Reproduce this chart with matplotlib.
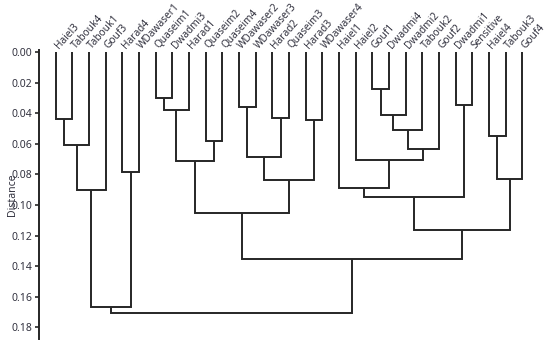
import matplotlib
matplotlib.use("Agg")
import matplotlib.pyplot as plt
import numpy as np

plt.rcParams['font.family'] = ['Noto Sans', 'DejaVu Sans']

# Leaf labels in dendrogram order
leaf_labels = ["Haiel3", "Tabouk4", "Tabouk1", "Gouf3", "Harad4", "WDawaser1",
               "Quaseim1", "Dwadmi3", "Harad1", "Quaseim2", "Quaseim4",
               "WDawaser2", "WDawaser3", "Harad2", "Quaseim3", "Harad3",
               "WDawaser4", "Haiel1", "Haiel2", "Gouf1", "Dwadmi4", "Dwadmi2",
               "Tabouk2", "Gouf2", "Dwadmi1", "Sensitive", "Haiel4", "Tabouk3",
               "Gouf4"]

# Linkage-style merges: node ids 0..28 are leaves, new clusters get ids 29, 30, ...
merge_a = [19, 6, 24, 11, 30, 29, 13, 0, 15, 34, 26, 9, 36, 38, 32, 18, 33,
           4, 39, 43, 17, 41, 49, 45, 51, 52, 50, 55]
merge_b = [20, 7, 25, 12, 8, 21, 14, 1, 16, 22, 27, 10, 2, 23, 35, 42, 40,
           5, 28, 37, 44, 3, 31, 48, 47, 53, 46, 54]
merge_height = [0.0242, 0.0297, 0.0342, 0.0356, 0.0378, 0.0412, 0.0432, 0.0434,
                0.0443, 0.0509, 0.0550, 0.0578, 0.0607, 0.0632, 0.0683, 0.0705,
                0.0714, 0.0786, 0.0831, 0.0838, 0.0890, 0.0899, 0.0949, 0.1050,
                0.1163, 0.1351, 0.1669, 0.1708]

y_ticks = [0.00, 0.02, 0.04, 0.06, 0.08, 0.10, 0.12, 0.14, 0.16, 0.18]

line_color = "#262626"
text_color = "#333340"

W, H = 550, 346
fig = plt.figure(figsize=(W / 100, H / 100), dpi=100)
ax_left, ax_right, ax_top, ax_bottom = 39.3, 545.0, 50.0, 339.0
ax = fig.add_axes([ax_left / W, 1 - ax_bottom / H,
                   (ax_right - ax_left) / W, (ax_bottom - ax_top) / H])

n = len(leaf_labels)
pos = {i: float(i) for i in range(n)}
hgt = {i: 0.0 for i in range(n)}
for k, (a, b, h) in enumerate(zip(merge_a, merge_b, merge_height)):
    node = n + k
    xa, xb = pos[a], pos[b]
    ax.plot([xa, xa, xb, xb], [hgt[a], h, h, hgt[b]], color=line_color,
            lw=1.4, solid_joinstyle='miter', solid_capstyle='butt')
    pos[node] = (xa + xb) / 2
    hgt[node] = h

spacing_px = 16.66
ax.set_xlim(-(55.7 - ax_left) / spacing_px, (ax_right - 55.7) / spacing_px)
ax.set_ylim(0.1877, -0.0015)

for i, lab in enumerate(leaf_labels):
    ax.text(i + 0.08, -0.0035, lab, rotation=48, rotation_mode='anchor',
            ha='left', va='center', fontsize=7.3, color=text_color, clip_on=False)

ax.set_xticks([])
ax.set_yticks(y_ticks)
ax.set_yticklabels([f"{v:.2f}" for v in y_ticks])
ax.tick_params(axis='y', direction='out', length=3, width=1.2, color=line_color,
               labelsize=7.5, labelcolor=text_color, pad=2)
for s in ['top', 'right', 'bottom']:
    ax.spines[s].set_visible(False)
ax.spines['left'].set_color(line_color)
ax.spines['left'].set_linewidth(1.4)

ax.set_ylabel("Distance", fontsize=7.5, color=text_color)
ax.yaxis.set_label_coords(-0.042, 0.5)

fig.savefig("out.png", dpi=100)
